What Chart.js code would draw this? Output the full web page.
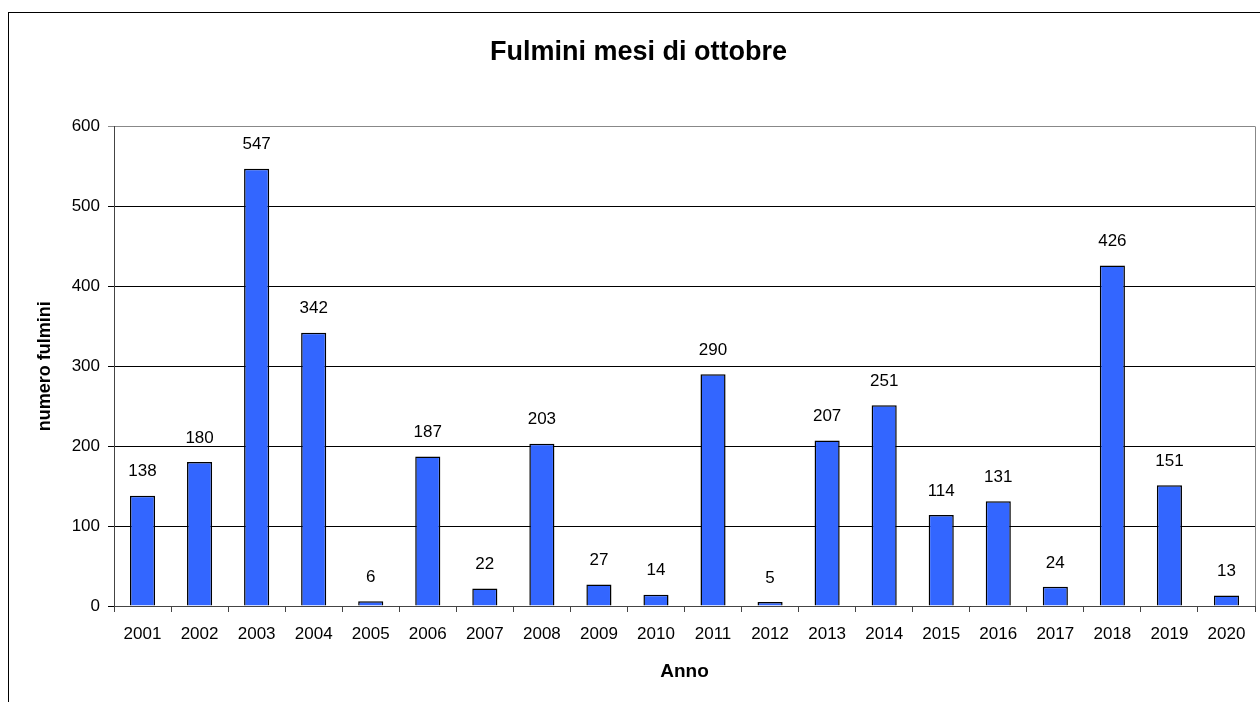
<!DOCTYPE html>
<html>
<head>
<meta charset="utf-8">
<script src="https://cdn.jsdelivr.net/npm/chart.js@4/dist/chart.umd.min.js"></script>
<style>
  html, body { margin: 0; padding: 0; background: #fff; overflow: hidden; }
  #wrap { position: relative; width: 1260px; height: 702px; }
  #frame { position: absolute; left: 8px; top: 12px; width: 1300px; height: 750px; border: 1px solid #000; }
  canvas { position: absolute; left: 0; top: 0; }
</style>
</head>
<body>
<div id="wrap">
  <div id="frame"></div>
  <canvas id="chart" width="1260" height="702"></canvas>
</div>
<script>
// --- data ---
const years = ['2001', '2002', '2003', '2004', '2005', '2006', '2007', '2008', '2009', '2010',
               '2011', '2012', '2013', '2014', '2015', '2016', '2017', '2018', '2019', '2020'];
const lightning = [138, 180, 547, 342, 6, 187, 22, 203, 27, 14,
                   290, 5, 207, 251, 114, 131, 24, 426, 151, 13];
const yTicks = [0, 100, 200, 300, 400, 500, 600];

const FONT = "'Liberation Sans', Arial, sans-serif";

// value labels above bars + gray right edge of the plot area
const barLabels = {
    id: 'barLabels',
    afterDatasetsDraw(chart) {
        const ctx = chart.ctx;
        const area = chart.chartArea;
        ctx.save();
        ctx.strokeStyle = '#888';
        ctx.lineWidth = 1;
        ctx.beginPath();
        ctx.moveTo(Math.round(area.right) + 0.5, area.top);
        ctx.lineTo(Math.round(area.right) + 0.5, area.bottom);
        ctx.stroke();

        ctx.fillStyle = '#000';
        ctx.font = '17px ' + FONT;
        ctx.textAlign = 'center';
        ctx.textBaseline = 'middle';
        chart.getDatasetMeta(0).data.forEach(function(bar, i) {
            ctx.fillText(String(lightning[i]), bar.x, bar.y - 24);
        });
        ctx.restore();
    }
};

const ctx = document.getElementById('chart').getContext('2d');
new Chart(ctx, {
    type: 'bar',
    data: {
        labels: years,
        datasets: [{
            data: lightning,
            backgroundColor: '#3366FF',
            borderColor: '#000',
            borderWidth: 1.5,
            categoryPercentage: 1,
            barPercentage: 0.44
        }]
    },
    options: {
        responsive: false,
        animation: false,
        layout: { padding: { left: 22, right: 5, top: 0, bottom: 0 } },
        plugins: {
            legend: { display: false },
            tooltip: { enabled: false },
            title: {
                display: true,
                text: 'Fulmini mesi di ottobre',
                color: '#000',
                font: { family: FONT, size: 27, weight: 'bold', lineHeight: 1.2 },
                padding: { top: 36, bottom: 58 }
            }
        },
        scales: {
            x: {
                grid: { drawOnChartArea: false, drawTicks: true, tickLength: 6, color: '#444', offset: true },
                border: { color: '#444', width: 1 },
                ticks: { color: '#000', font: { family: FONT, size: 17 }, padding: 12, maxRotation: 0 },
                title: {
                    display: true,
                    text: 'Anno',
                    color: '#000',
                    font: { family: FONT, size: 19, weight: 'bold' },
                    padding: { top: 4, bottom: 19 }
                },
                afterFit(scale) { scale.height = 96; }
            },
            y: {
                min: 0,
                max: 600,
                afterBuildTicks(scale) { scale.ticks = yTicks.map(v => ({ value: v })); },
                grid: {
                    color: c => c.tick && c.tick.value === 600 ? '#888' : '#000',
                    tickLength: 6,
                    drawTicks: true
                },
                border: { color: '#444', width: 1 },
                ticks: { color: '#000', font: { family: FONT, size: 17 }, padding: 8 },
                title: {
                    display: true,
                    text: 'numero fulmini',
                    color: '#000',
                    font: { family: FONT, size: 18, weight: 'bold' },
                    padding: { top: 12, bottom: 0 }
                },
                afterFit(scale) { scale.width = 92; }
            }
        }
    },
    plugins: [barLabels]
});
</script>
</body>
</html>
